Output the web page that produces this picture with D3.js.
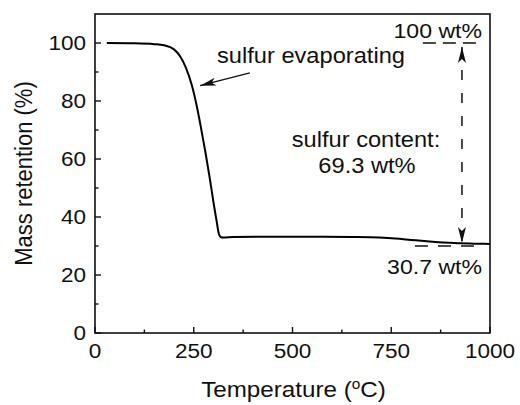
<!DOCTYPE html>
<html>
<head>
<meta charset="utf-8">
<script src="https://cdn.jsdelivr.net/npm/d3@7"></script>
<style>
  html, body { margin: 0; padding: 0; background: #fff; }
  svg { display: block; }
  text { font-family: Arial, "Liberation Sans", sans-serif; fill: #111; }
</style>
</head>
<body>
<svg id="chart" width="520" height="405"></svg>
<script>
// TGA curve: temperature (°C) vs mass retention (%)
const temperature = [30, 100, 150, 175, 200, 215, 230, 245, 258, 268, 280, 291, 300, 308, 313, 318, 325, 350, 450, 550, 650, 720, 760, 800, 840, 880, 920, 960, 1000];
const retention   = [100, 99.9, 99.6, 99.2, 97.8, 95.5, 91.5, 85.5, 78, 71, 62, 53, 45, 38.5, 34.5, 33.1, 32.9, 33.1, 33.2, 33.2, 33.1, 32.9, 32.6, 32.1, 31.6, 31.2, 30.95, 30.8, 30.7];

const xTicks = [0, 250, 500, 750, 1000];
const xMinorTicks = [125, 375, 625, 875];
const yTicks = [0, 20, 40, 60, 80, 100];
const yMinorTicks = [10, 30, 50, 70, 90];

const startValue = 100;   // wt%
const residueValue = 30.7; // wt%
const sulfurContent = 69.3; // wt%
const arrowTemp = 929;

const svg = d3.select("#chart");
const x = d3.scaleLinear().domain([0, 1000]).range([95, 490]);
const y = d3.scaleLinear().domain([0, 110]).range([333, 14]);

const SX = 1.1; // horizontal glyph stretch

function label(g, px, py, str, size, anchor) {
  return g.append("text")
    .attr("transform", `translate(${px},${py}) scale(${SX},1)`)
    .attr("text-anchor", anchor || "start")
    .style("font-size", size + "px")
    .text(str);
}

const defs = svg.append("defs");
defs.append("marker")
  .attr("id", "head")
  .attr("viewBox", "0 0 16 8")
  .attr("refX", 16).attr("refY", 4)
  .attr("markerWidth", 16).attr("markerHeight", 8)
  .attr("markerUnits", "userSpaceOnUse")
  .attr("orient", "auto-start-reverse")
  .append("path")
  .attr("d", "M0,0 L16,4 L0,8 L4,4 Z")
  .attr("fill", "#111");

// frame
svg.append("rect")
  .attr("x", x(0)).attr("y", y(110))
  .attr("width", x(1000) - x(0)).attr("height", y(0) - y(110))
  .attr("fill", "none").attr("stroke", "#111").attr("stroke-width", 1.6);

// ticks (inward)
const tg = svg.append("g").attr("stroke", "#111").attr("stroke-width", 1.4);
tg.selectAll(".xt").data(xTicks).join("line")
  .attr("x1", d => x(d)).attr("x2", d => x(d)).attr("y1", y(0)).attr("y2", y(0) - 6);
tg.selectAll(".xm").data(xMinorTicks).join("line")
  .attr("x1", d => x(d)).attr("x2", d => x(d)).attr("y1", y(0)).attr("y2", y(0) - 3.5);
tg.selectAll(".yt").data(yTicks).join("line")
  .attr("x1", x(0)).attr("x2", x(0) + 6).attr("y1", d => y(d)).attr("y2", d => y(d));
tg.selectAll(".ym").data(yMinorTicks).join("line")
  .attr("x1", x(0)).attr("x2", x(0) + 3.5).attr("y1", d => y(d)).attr("y2", d => y(d));

// tick labels
xTicks.forEach(t => label(svg, x(t), 358, String(t), 20.5, "middle"));
yTicks.forEach(t => label(svg, 86, y(t) + 7, String(t), 20.5, "end"));

// axis titles
const xt = svg.append("text")
  .attr("transform", `translate(${x(500) + 1},397) scale(${SX},1)`)
  .attr("text-anchor", "middle").style("font-size", "22px");
xt.append("tspan").text("Temperature (");
xt.append("tspan").attr("dy", -8).style("font-size", "14px").text("o");
xt.append("tspan").attr("dy", 8).text("C)");

svg.append("text")
  .attr("transform", `translate(32,${(y(0) + y(110)) / 2}) scale(${SX},1) rotate(-90)`)
  .attr("text-anchor", "middle").style("font-size", "22px")
  .text("Mass retention (%)");

// curve
const line = d3.line().x((d, i) => x(temperature[i])).y(d => y(d)).curve(d3.curveMonotoneX);
svg.append("path")
  .datum(retention)
  .attr("d", line)
  .attr("fill", "none").attr("stroke", "#000").attr("stroke-width", 2);

// annotations
const ann = svg.append("g");
ann.append("line")
  .attr("x1", x(392)).attr("y1", y(89.7)).attr("x2", x(266)).attr("y2", y(85.3))
  .attr("stroke", "#111").attr("stroke-width", 1.4).attr("marker-end", "url(#head)");
label(ann, 217, 63, "sulfur evaporating", 21.5, "start");

ann.append("line")
  .attr("x1", x(830)).attr("x2", x(982)).attr("y1", y(startValue)).attr("y2", y(startValue))
  .attr("stroke", "#111").attr("stroke-width", 1.6).attr("stroke-dasharray", "13,7");
ann.append("line")
  .attr("x1", x(810)).attr("x2", x(962)).attr("y1", y(residueValue) + 2).attr("y2", y(residueValue) + 2)
  .attr("stroke", "#111").attr("stroke-width", 1.6).attr("stroke-dasharray", "13,10");
ann.append("line")
  .attr("x1", x(arrowTemp)).attr("x2", x(arrowTemp))
  .attr("y1", y(startValue) + 4).attr("y2", y(residueValue) - 1)
  .attr("stroke", "#111").attr("stroke-width", 1.5).attr("stroke-dasharray", "10,13")
  .attr("marker-start", "url(#head)").attr("marker-end", "url(#head)");

label(ann, 482, 38, `${startValue} wt%`, 21, "end");
label(ann, 482, 274, `${residueValue} wt%`, 21, "end");
label(ann, 366, 147, "sulfur content:", 21.5, "middle");
label(ann, 367, 173, `${sulfurContent} wt%`, 21.5, "middle");
</script>
</body>
</html>
